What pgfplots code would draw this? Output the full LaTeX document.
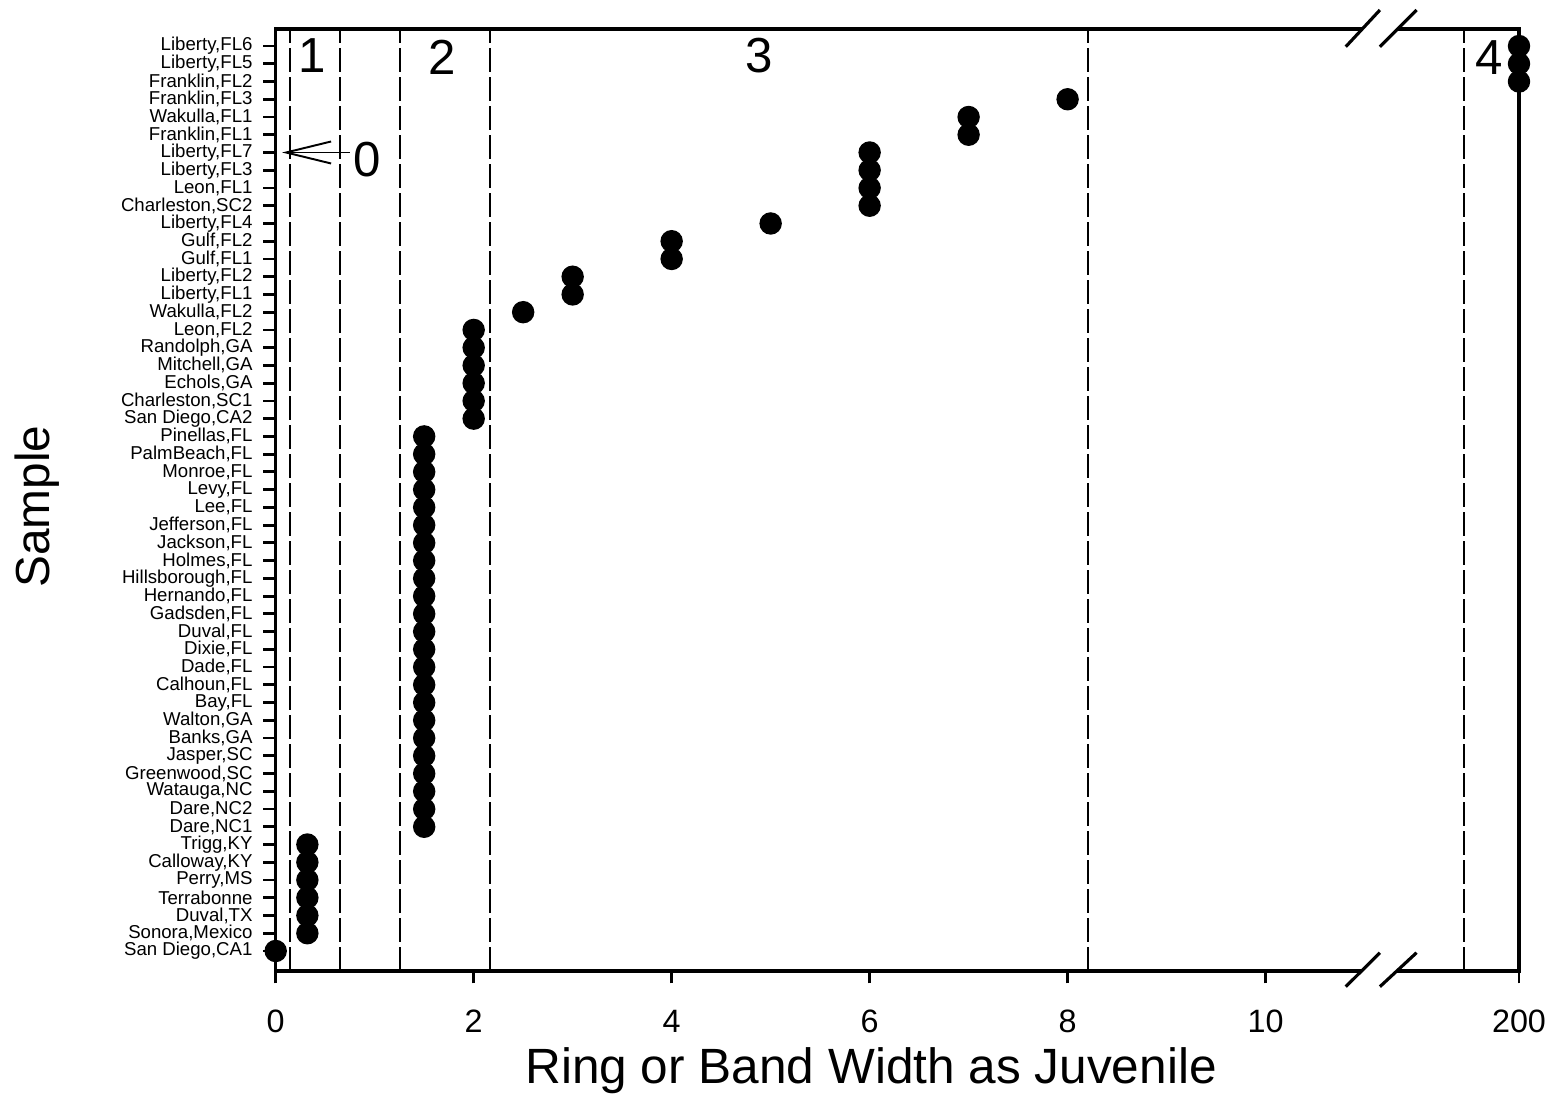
\documentclass[border=0pt]{standalone}
\usepackage{fontspec}
\setmainfont{Liberation Sans}
\usepackage{pgfplots}
\pgfplotsset{compat=1.18}
\usepackage{pgfplotstable}
\usetikzlibrary{arrows.meta}

% x = ring/band width, y = sample index (0 = bottom row)
\pgfplotstableread{
x y
0 0
0.32 1
0.32 2
0.32 3
0.32 4
0.32 5
0.32 6
1.5 7
1.5 8
1.5 9
1.5 10
1.5 11
1.5 12
1.5 13
1.5 14
1.5 15
1.5 16
1.5 17
1.5 18
1.5 19
1.5 20
1.5 21
1.5 22
1.5 23
1.5 24
1.5 25
1.5 26
1.5 27
1.5 28
1.5 29
2 30
2 31
2 32
2 33
2 34
2 35
2.5 36
3 37
3 38
4 39
4 40
5 41
6 42
6 43
6 44
6 45
7 46
7 47
8 48
200 49
200 50
200 51
}\ringdata

\begin{document}
\begin{tikzpicture}
\useasboundingbox (-27.57mm,-12.3mm) rectangle (127.93mm,97.1mm);
\begin{axis}[
  at={(0,0)}, anchor=south west,
  scale only axis,
  width=124.33mm, height=94.2mm,
  xmin=0, xmax=12.56,
  ymin=-1.127, ymax=51.96,
  clip=false,
  /pgf/number format/assume math mode=true,
  xtick={0,2,4,6,8,10,12.56},
  xticklabels={0,2,4,6,8,10,200},
  ytick={0,...,51},
  yticklabels={{San Diego,CA1},{Sonora,Mexico},{Duval,TX},{Terrabonne},{Perry,MS},{Calloway,KY},{Trigg,KY},
    {Dare,NC1},{Dare,NC2},{Watauga,NC},{Greenwood,SC},{Jasper,SC},{Banks,GA},{Walton,GA},{Bay,FL},
    {Calhoun,FL},{Dade,FL},{Dixie,FL},{Duval,FL},{Gadsden,FL},{Hernando,FL},{Hillsborough,FL},{Holmes,FL},
    {Jackson,FL},{Jefferson,FL},{Lee,FL},{Levy,FL},{Monroe,FL},{PalmBeach,FL},{Pinellas,FL},
    {San Diego,CA2},{Charleston,SC1},{Echols,GA},{Mitchell,GA},{Randolph,GA},{Leon,FL2},{Wakulla,FL2},
    {Liberty,FL1},{Liberty,FL2},{Gulf,FL1},{Gulf,FL2},{Liberty,FL4},{Charleston,SC2},{Leon,FL1},
    {Liberty,FL3},{Liberty,FL7},{Franklin,FL1},{Wakulla,FL1},{Franklin,FL3},{Franklin,FL2},
    {Liberty,FL5},{Liberty,FL6}},
  tick align=outside,
  xtick pos=bottom, ytick pos=left,
  major tick length=1.25mm,
  tick style={black, line width=0.8pt},
  axis line style={line width=0.9pt},
  yticklabel style={font=\fontsize{5.3}{6}\selectfont, inner xsep=1.0mm, inner ysep=0pt},
  xticklabel style={font=\fontsize{9.2}{10}\selectfont, inner ysep=2.6mm},
]
\addplot[only marks, mark=*, mark size=1.05mm, black,
  x filter/.expression={x>100 ? 12.56 : x}] table[x=x, y=y] {\ringdata};

% class boundaries
\foreach \xb in {0.145,0.65,1.26,2.165,8.205,12.0}{
  \edef\tmp{\noexpand\draw[black, line width=0.55pt, dash pattern=on 2.4mm off 0.5mm]
    (axis cs:\xb,-1.127) -- (axis cs:\xb,51.96);}\tmp
}

% axis break
\draw[white, line width=2.5pt] (axis cs:10.97,51.96) -- (axis cs:11.33,51.96);
\draw[white, line width=2.5pt] (axis cs:10.97,-1.127) -- (axis cs:11.33,-1.127);
\draw[black, line width=0.9pt] (axis cs:10.81,50.96) -- (axis cs:11.155,53.03);
\draw[black, line width=0.9pt] (axis cs:11.155,50.96) -- (axis cs:11.525,53.03);
\draw[black, line width=0.9pt] (axis cs:10.81,-2.01) -- (axis cs:11.155,-0.096);
\draw[black, line width=0.9pt] (axis cs:11.155,-2.01) -- (axis cs:11.525,-0.096);

% class numbers
\node[font=\fontsize{14}{16}\selectfont] at (axis cs:0.372,50.44) {1};
\node[font=\fontsize{14}{16}\selectfont] at (axis cs:1.685,50.35) {2};
\node[font=\fontsize{14}{16}\selectfont] at (axis cs:4.88,50.46) {3};
\node[font=\fontsize{14}{16}\selectfont] at (axis cs:12.26,50.35) {4};
\node[font=\fontsize{14}{16}\selectfont] at (axis cs:0.92,44.6) {0};
\draw[line width=0.55pt, -{Straight Barb[length=4.5mm, width=2.2mm]}]
  (axis cs:0.75,45) -- (axis cs:0.064,45);
\end{axis}
\node[font=\fontsize{14.1}{16}\selectfont, anchor=base] at (59.53mm,-11.3mm) {Ring or Band Width as Juvenile};
\node[font=\fontsize{13.6}{16}\selectfont, anchor=base, rotate=90] at (-22.6mm,46.45mm) {Sample};
\end{tikzpicture}
\end{document}
